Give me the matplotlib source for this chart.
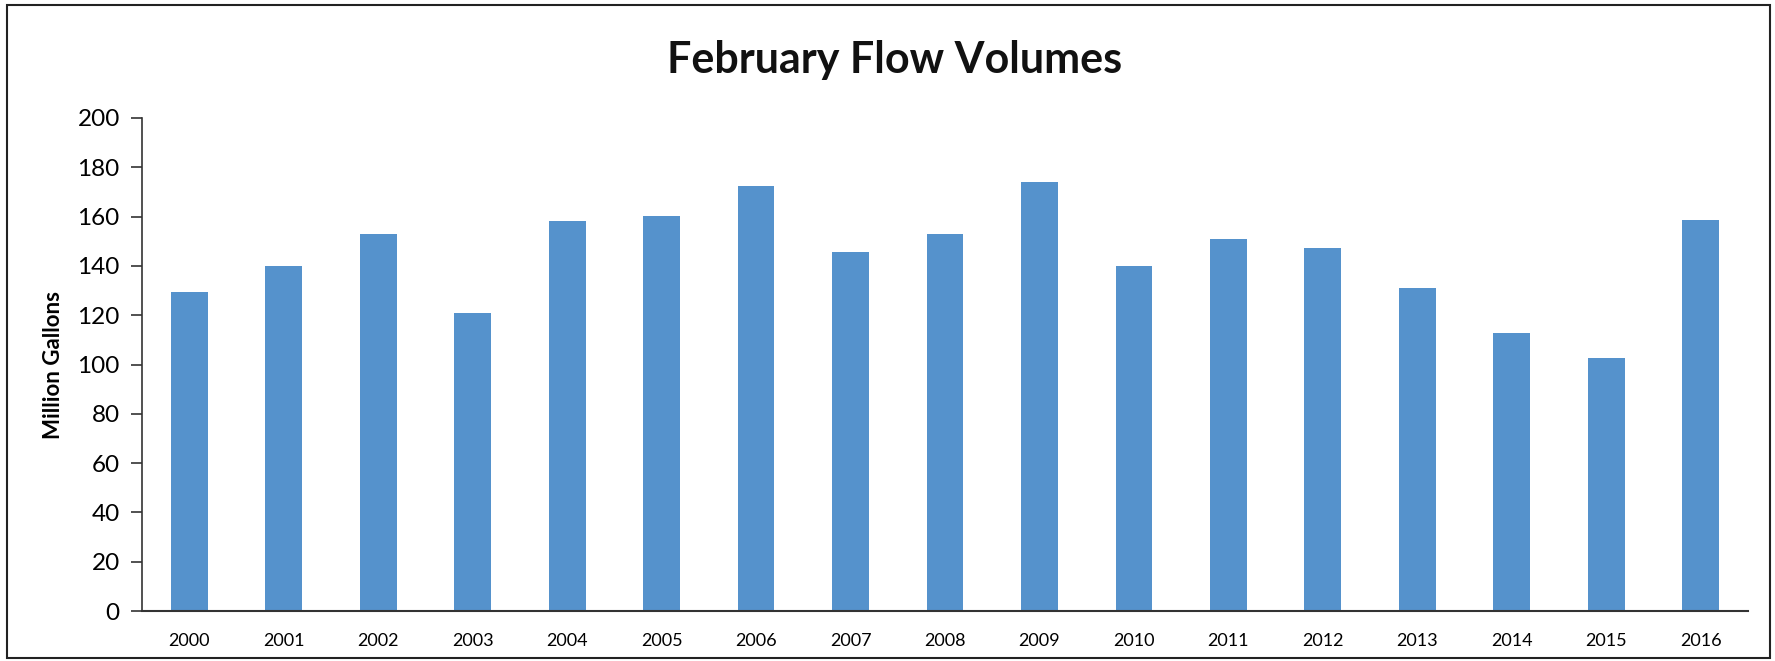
import matplotlib
matplotlib.use('Agg')
import matplotlib.pyplot as plt
from matplotlib.patches import Rectangle

years = ['2000', '2001', '2002', '2003', '2004', '2005', '2006', '2007', '2008',
         '2009', '2010', '2011', '2012', '2013', '2014', '2015', '2016']
volumes = [129.5, 140, 153, 120.7, 158.4, 160.2, 172.5, 145.5, 152.8,
           174.2, 139.8, 151, 147.3, 130.9, 112.6, 102.5, 158.6]
y_ticks = [0, 20, 40, 60, 80, 100, 120, 140, 160, 180, 200]

plt.rcParams['font.family'] = ['Lato', 'DejaVu Sans']

fig = plt.figure(figsize=(17.75, 6.61), dpi=100)
ax = fig.add_axes([0.08, 0.0756, 0.9048, 0.7459])

x = list(range(len(years)))
ax.bar(x, volumes, width=0.39, color='#5592CC')

ax.set_xlim(-0.5, len(years) - 0.5)
ax.set_ylim(0, 200)
ax.set_yticks(y_ticks)
ax.set_xticks(x)
ax.set_xticklabels(years, fontsize=13)
ax.tick_params(axis='y', labelsize=17.5, length=8, width=1.2, color='#333333', pad=8)
ax.tick_params(axis='x', length=0, pad=16)

for s in ['top', 'right']:
    ax.spines[s].set_visible(False)
ax.spines['left'].set_color('#333333')
ax.spines['left'].set_linewidth(1.2)
ax.spines['bottom'].set_color('#333333')
ax.spines['bottom'].set_linewidth(1.5)

ax.set_ylabel('Million Gallons', fontsize=16, fontweight='bold', labelpad=10)

fig.text(0.504, 0.909, 'February Flow Volumes', ha='center', va='center',
         fontsize=31, fontweight='bold', color='#111111')

fig.patches.append(Rectangle((0.004, 0.004), 0.993, 0.988, transform=fig.transFigure,
                             fill=False, edgecolor='#222222', linewidth=1.5))

fig.savefig('out.png', dpi=100)
